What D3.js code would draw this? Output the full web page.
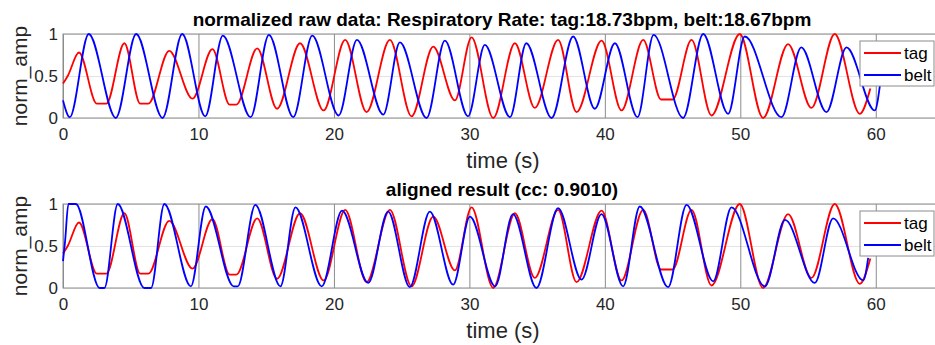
<!DOCTYPE html>
<html>
<head>
<meta charset="utf-8">
<script src="https://cdn.jsdelivr.net/npm/d3@7"></script>
<style>
  body { margin: 0; background: #fff; }
  svg { font-family: "Liberation Sans", Arial, sans-serif; }
</style>
</head>
<body>
<div id="chart-area"></div>
<script>
// Data (extrema of each breathing cycle)
let tagTime = [0, 0.35, 1.18, 2.5, 3.2, 4.53, 5.7, 6.3, 7.84, 9.56, 11.03, 12.3, 12.8, 14.34, 15.8, 17.5, 19.24, 20.83,
  22.41, 24.13, 25.73, 27.33, 28.93, 30.16, 31.76, 33.36, 34.83, 36.55, 37.91, 39.76, 41.23, 42.83,
  44.15, 45.0, 46.4, 47.87, 49.96, 51.68, 53.53, 55.25, 56.97, 58.82, 59.6];
let tagAmp = [0.41, 0.5, 0.78, 0.17, 0.17, 0.89, 0.17, 0.17, 0.80, 0.23, 0.82, 0.16, 0.16, 0.83, 0.11, 0.89, 0.09, 0.93,
  0.07, 0.93, 0.02, 0.85, 0.21, 0.96, 0.00, 0.89, 0.12, 0.93, 0.07, 0.92, 0.09, 0.93,
  0.22, 0.22, 0.93, 0.03, 1.00, 0.00, 0.88, 0.12, 1.00, 0.05, 0.35];

let beltTime = [0, 0.5, 1.9, 3.9, 5.4, 7.35, 8.8, 10.5, 11.8, 13.85, 15.2, 17.0, 18.4, 20.35, 21.7,
  23.64, 24.87, 26.84, 28.19, 29.9, 31.14, 33.0, 34.2, 36.07, 37.66, 39.26, 40.74, 42.41, 43.6,
  45.78, 47.26, 49.1, 50.33, 53.04, 54.5, 56.36, 57.84, 59.93, 60.3];
let beltAmp = [0.21, 0.01, 1.0, 0.0, 1.0, 0.0, 1.0, 0.02, 0.98, 0.01, 0.99, 0.01, 0.98, 0.03, 0.93,
  0.04, 0.90, 0.0, 0.92, 0.02, 0.87, 0.01, 0.89, 0.0, 0.97, 0.11, 0.89, 0.01, 0.99,
  0.0, 1.0, 0.05, 0.97, 0.01, 0.84, 0.07, 0.84, 0.09, 0.38];

let alignedTime = [0, 0.15, 0.4, 0.95, 2.7, 3.06, 4.04, 6.0, 6.5, 7.48, 9.44, 10.54, 12.6, 12.9, 14.2, 16.05, 17.16, 19.1, 20.6,
  22.53, 24.0, 25.6, 27.08, 28.8, 30.04, 31.9, 33.22, 34.95, 36.55, 38.28, 39.75, 41.35, 42.58,
  44.67, 46.03, 48.0, 49.35, 51.81, 53.3, 55.5, 56.85, 59.07, 59.44];
let alignedAmp = [0.32, 0.55, 1.0, 1.0, 0.0, 0.0, 1.0, 0.0, 0.0, 1.0, 0.02, 0.97, 0.02, 0.02, 0.99, 0.02, 0.96, 0.02, 0.92,
  0.06, 0.91, 0.01, 0.91, 0.04, 0.85, 0.02, 0.88, 0.0, 0.95, 0.10, 0.88, 0.02, 0.97,
  0.01, 0.99, 0.08, 0.96, 0.02, 0.81, 0.06, 0.83, 0.09, 0.36];

let xTicks = [0, 10, 20, 30, 40, 50, 60];
let yTicks = [0, 0.5, 1];
let seriesNames = ["tag", "belt"];
let seriesColors = ["#ff0000", "#0000ff"];

let titles = [
  "normalized raw data: Respiratory Rate: tag:18.73bpm, belt:18.67bpm",
  "aligned result (cc: 0.9010)"
];

// SVG container
let width = 935, height = 345;
let svg = d3.select("#chart-area")
  .append("svg")
  .attr("width", width)
  .attr("height", height);

let x = d3.scaleLinear().domain([0, 65]).range([63, 943.5]);

const zip = (ts, vs) => ts.map((t, i) => ({ t: t, v: vs[i] }));

function drawPanel(top, title, belt) {
  let bottom = top + 84;
  let y = d3.scaleLinear().domain([0, 1]).range([bottom, top]);
  let g = svg.append("g");

  // horizontal grid + y tick labels
  let yAxis = d3.axisLeft(y)
    .tickValues(yTicks)
    .tickFormat(d3.format("~g"))
    .tickSizeInner(-(x.range()[1] - x.range()[0]))
    .tickSizeOuter(0)
    .tickPadding(5);
  let ya = g.append("g")
    .attr("transform", "translate(" + x(0) + ",0)")
    .call(yAxis);
  ya.select(".domain").remove();
  ya.selectAll("line").attr("stroke", "#e3e3e3");
  ya.selectAll("text").attr("fill", "#262626").style("font-size", "17px");

  // vertical grid + x tick labels
  let xAxis = d3.axisBottom(x)
    .tickValues(xTicks)
    .tickSizeInner(-(bottom - top))
    .tickSizeOuter(0)
    .tickPadding(10);
  let xa = g.append("g")
    .attr("transform", "translate(0," + bottom + ")")
    .call(xAxis);
  xa.select(".domain").remove();
  xa.selectAll("line").attr("stroke", "#8c8c8c");
  xa.selectAll("text").attr("fill", "#262626").style("font-size", "17px");

  // box
  g.append("rect")
    .attr("x", x(0))
    .attr("y", top)
    .attr("width", x.range()[1] - x(0))
    .attr("height", bottom - top)
    .attr("fill", "none")
    .attr("stroke", "#8c8c8c");

  // lines
  let line = d3.line()
    .x(d => x(d.t))
    .y(d => y(d.v))
    .curve(d3.curveMonotoneX);

  [zip(tagTime, tagAmp), belt].forEach((data, i) => {
    g.append("path")
      .datum(data)
      .attr("fill", "none")
      .attr("stroke", seriesColors[i])
      .attr("stroke-width", 1.8)
      .attr("d", line);
  });

  // title
  g.append("text")
    .attr("x", 502)
    .attr("y", top - 8.5)
    .attr("text-anchor", "middle")
    .style("font-size", "19px")
    .style("font-weight", "bold")
    .attr("fill", "#000")
    .text(title);

  // axis labels
  g.append("text")
    .attr("x", 503)
    .attr("y", bottom + 50)
    .attr("text-anchor", "middle")
    .style("font-size", "22px")
    .attr("fill", "#262626")
    .text("time (s)");

  g.append("text")
    .attr("transform", "translate(27," + (top + 42) + ") rotate(-90)")
    .attr("text-anchor", "middle")
    .style("font-size", "21px")
    .attr("fill", "#262626")
    .text("norm_amp");

  // legend
  let lg = g.append("g").attr("transform", "translate(860," + (top + 7) + ")");
  lg.append("rect")
    .attr("width", 74)
    .attr("height", 45)
    .attr("fill", "#fff")
    .attr("stroke", "#8c8c8c");
  seriesNames.forEach((name, i) => {
    lg.append("line")
      .attr("x1", 4).attr("x2", 41)
      .attr("y1", 12 + i * 22).attr("y2", 12 + i * 22)
      .attr("stroke", seriesColors[i])
      .attr("stroke-width", 1.8);
    lg.append("text")
      .attr("x", 44)
      .attr("y", 12 + i * 22)
      .attr("dy", "0.35em")
      .style("font-size", "17px")
      .attr("fill", "#000")
      .text(name);
  });
}

drawPanel(34, titles[0], zip(beltTime, beltAmp));
drawPanel(204, titles[1], zip(alignedTime, alignedAmp));
</script>
</body>
</html>
